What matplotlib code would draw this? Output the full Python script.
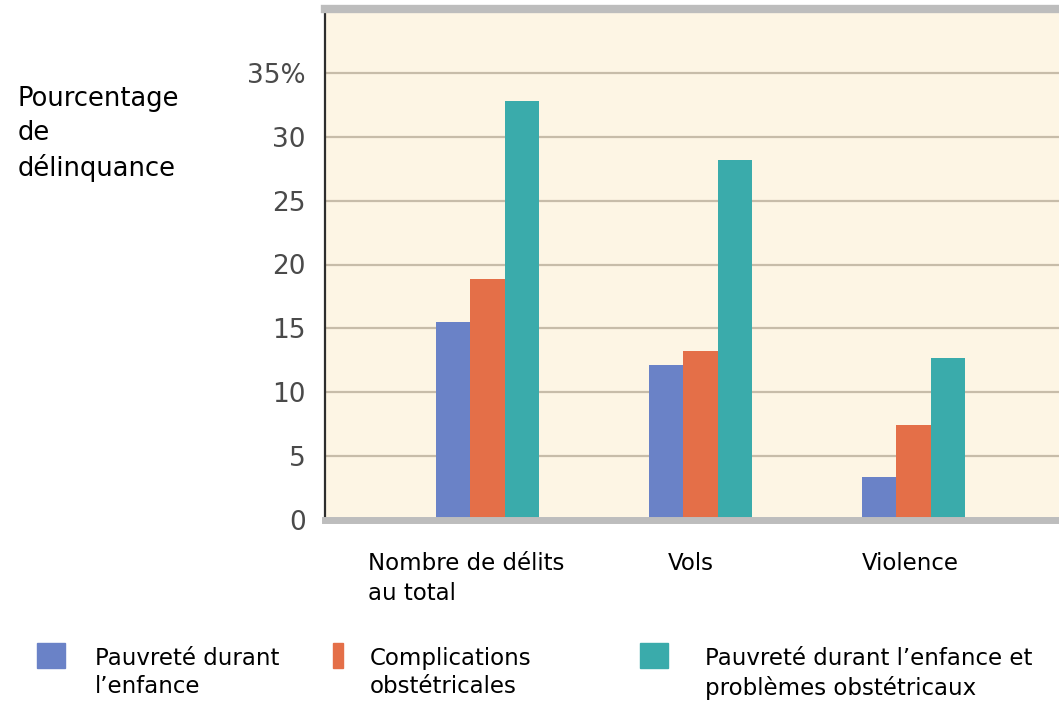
import matplotlib.pyplot as plt
from matplotlib.patches import Rectangle

# data
categories = ["Nombre de délits\nau total", "Vols", "Violence"]
series_names = ["Pauvreté durant\nl\u2019enfance",
                "Complications\nobstétricales",
                "Pauvreté durant l\u2019enfance et\nproblèmes obstétricaux"]
pauvrete = [15.5, 12.1, 3.4]
complications = [18.9, 13.2, 7.4]
combine = [32.8, 28.2, 12.7]
yticks = [0, 5, 10, 15, 20, 25, 30, 35]
ytick_labels = ["0", "5", "10", "15", "20", "25", "30", "35%"]

colors = ["#6A82C7", "#E46F48", "#3AABAB"]
bg = "#FDF5E4"
grid_color = "#C7BCA9"

plt.rcParams['font.family'] = ['DejaVu Sans']

fig = plt.figure(figsize=(10.59, 7.10), dpi=100)
W, H = 1059, 710

def fx(px):
    return px / W

def fy(py):
    return 1 - py / H

ax = fig.add_axes([fx(325), fy(520), 1 - fx(325), fy(9) - fy(520)])
ax.set_facecolor(bg)

xs = list(range(len(categories)))
bw = 0.162
for i, vals in enumerate([pauvrete, complications, combine]):
    ax.bar([x + (i - 1) * bw for x in xs], vals, width=bw, color=colors[i],
           zorder=3, linewidth=0)

ax.set_xlim(-0.763, 2.683)
ax.set_ylim(0, 40.0)

# horizontal grid lines
for t in yticks[1:]:
    ax.axhline(t, color=grid_color, linewidth=1.6, zorder=1)

ax.set_yticks(yticks)
ax.set_yticklabels(ytick_labels, fontsize=19, color="#4A4A4A")
ax.tick_params(axis="y", length=0, pad=14)
ax.set_xticks([])

ax.spines["right"].set_visible(False)
ax.spines["left"].set_color("#2E2E2E")
ax.spines["left"].set_linewidth(1.6)
ax.spines["top"].set_color("#BDBDBD")
ax.spines["top"].set_linewidth(6)
ax.spines["bottom"].set_color("#BDBDBD")
ax.spines["bottom"].set_linewidth(5)
ax.spines["bottom"].set_zorder(4)

# y axis title
fig.text(fx(18), fy(86), "Pourcentage\nde\ndélinquance", fontsize=18.5,
         color="black", ha="left", va="top", linespacing=1.38)

# category labels, left aligned under groups
cat_x = [368, 668, 862]
for lab, px in zip(categories, cat_x):
    fig.text(fx(px), fy(552), lab, fontsize=16.5, color="black",
             ha="left", va="top", linespacing=1.4)

# legend drawn by hand
sq = [(37, 28), (333, 10), (640, 28)]
txt_x = [95, 370, 705]
for (sx, sw), tx, c, name in zip(sq, txt_x, colors, series_names):
    fig.patches.append(Rectangle((fx(sx), fy(668)), sw / W, 25 / H,
                                 transform=fig.transFigure, color=c))
    fig.text(fx(tx), fy(647), name, fontsize=16.5, color="black",
             ha="left", va="top", linespacing=1.3)

fig.savefig("out.png", dpi=100, facecolor="white")
